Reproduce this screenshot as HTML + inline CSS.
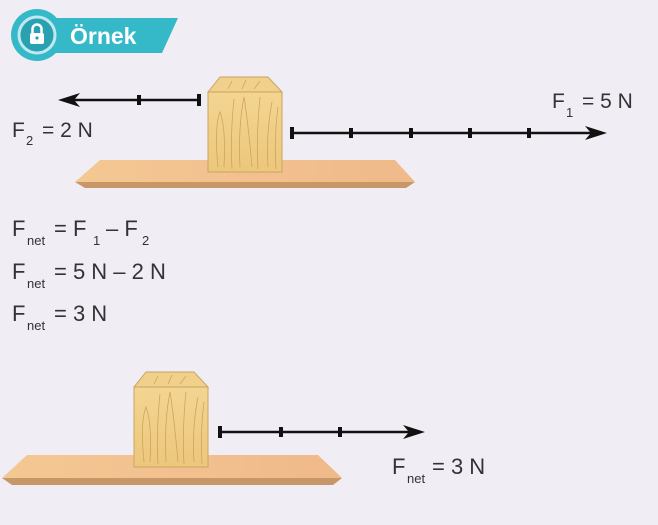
<!DOCTYPE html>
<html><head><meta charset="utf-8"><style>
html,body{margin:0;padding:0;background:#f0edf5;}
svg{display:block}
text{font-family:"Liberation Sans",Arial,sans-serif;fill:#333}
</style></head><body>
<svg width="658" height="525" viewBox="0 0 658 525" xmlns="http://www.w3.org/2000/svg">
<defs>
<linearGradient id="bd" x1="0" x2="1" y1="0" y2="0">
<stop offset="0" stop-color="#f4c893"/><stop offset="1" stop-color="#f0b98a"/></linearGradient>
<linearGradient id="wd" x1="0" x2="0" y1="0" y2="1">
<stop offset="0" stop-color="#f3d592"/><stop offset="1" stop-color="#ecc77c"/></linearGradient>
<g id="block">
<polygon points="0,15 12,0 60,0 74,15" fill="#f0d08a" stroke="#c9a560" stroke-width="1"/>
<rect x="0" y="15" width="74" height="80" fill="url(#wd)" stroke="#c9a560" stroke-width="1"/>
<g stroke="#c99a50" stroke-width="0.8" fill="none" opacity="0.8">
<path d="M10 90 Q6 50 12 35 Q18 50 16 90"/><path d="M24 92 Q22 60 26 22"/><path d="M32 90 Q30 50 36 20 Q40 45 44 90"/>
<path d="M50 92 Q48 60 52 20"/><path d="M60 90 Q58 55 64 25"/><path d="M68 92 Q66 60 70 30"/>
<path d="M20 12 L24 4"/><path d="M34 12 L38 3"/><path d="M46 12 L52 4"/>
</g>
</g>
</defs>

<polygon points="40,18 178,18 162,53 40,53" fill="#35b9c9"/>
<circle cx="37" cy="35" r="26" fill="#35b9c9"/>
<circle cx="37" cy="35" r="18" fill="#2aa1b1" stroke="#bfe9ef" stroke-width="3"/>
<rect x="30" y="33" width="14" height="11" rx="2" fill="#fff"/>
<path d="M32.5 33 V29 a4.5 4.5 0 0 1 9 0 V33" fill="none" stroke="#fff" stroke-width="2.5"/>
<circle cx="37" cy="38" r="1.6" fill="#2aa1b1"/>
<text x="70" y="44" font-size="23" font-weight="bold" style="fill:#fff">Örnek</text>

<polygon points="75,182 415,182 406,188 85,188" fill="#c79767"/>
<polygon points="100,160 395,160 415,182 75,182" fill="url(#bd)"/>
<use href="#block" x="208" y="77"/>

<g stroke="#111" stroke-width="2.5"><line x1="70" y1="100" x2="200" y2="100"/>
<line x1="139" y1="95" x2="139" y2="105" stroke-width="4"/><line x1="199" y1="94" x2="199" y2="106" stroke-width="4"/></g>
<polygon points="58,100 80,93 74,100 80,107" fill="#111"/>
<text x="12" y="137" font-size="21">F</text><text x="26" y="145" font-size="13">2</text><text x="42" y="137" font-size="21">= 2 N</text>

<g stroke="#111" stroke-width="2.5"><line x1="292" y1="133" x2="595" y2="133"/>
<line x1="292" y1="127" x2="292" y2="139" stroke-width="4"/>
<line x1="351" y1="128" x2="351" y2="138" stroke-width="4"/><line x1="411" y1="128" x2="411" y2="138" stroke-width="4"/>
<line x1="470" y1="128" x2="470" y2="138" stroke-width="4"/><line x1="529" y1="128" x2="529" y2="138" stroke-width="4"/></g>
<polygon points="607,133 585,126 591,133 585,140" fill="#111"/>
<text x="552" y="108" font-size="21">F</text><text x="566" y="117" font-size="13">1</text><text x="582" y="108" font-size="21">= 5 N</text>

<text x="12" y="236" font-size="22">F</text><text x="27" y="245" font-size="13">net</text><text x="54" y="236" font-size="22">= F</text><text x="93" y="245" font-size="13">1</text><text x="106" y="236" font-size="22">– F</text><text x="142" y="245" font-size="13">2</text>
<text x="12" y="279" font-size="22">F</text><text x="27" y="288" font-size="13">net</text><text x="54" y="279" font-size="22">= 5 N – 2 N</text>
<text x="12" y="321" font-size="22">F</text><text x="27" y="330" font-size="13">net</text><text x="54" y="321" font-size="22">= 3 N</text>

<polygon points="2,478 342,478 333,485 12,485" fill="#c79767"/>
<polygon points="27,455 318,455 342,478 2,478" fill="url(#bd)"/>
<use href="#block" x="134" y="372"/>

<g stroke="#111" stroke-width="2.5"><line x1="220" y1="432" x2="413" y2="432"/>
<line x1="220" y1="426" x2="220" y2="438" stroke-width="4"/>
<line x1="281" y1="427" x2="281" y2="437" stroke-width="4"/><line x1="340" y1="427" x2="340" y2="437" stroke-width="4"/></g>
<polygon points="425,432 403,425 409,432 403,439" fill="#111"/>
<text x="392" y="474" font-size="22">F</text><text x="407" y="483" font-size="13">net</text><text x="432" y="474" font-size="22">= 3 N</text>
</svg>
</body></html>
